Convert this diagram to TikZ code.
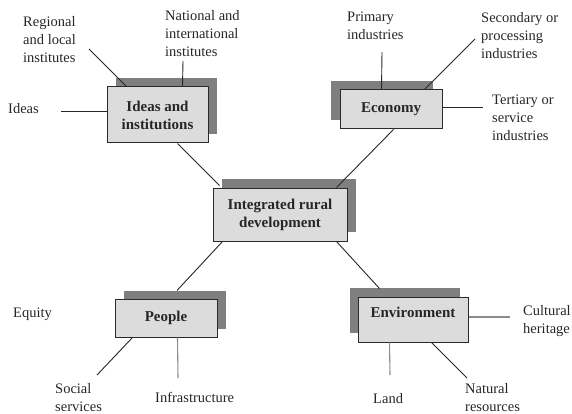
\documentclass[tikz,border=0pt]{standalone}
\usepackage{fontspec}
\setmainfont{Liberation Serif}
\usetikzlibrary{shadows,calc}
\definecolor{boxfill}{HTML}{DCDCDC}
\definecolor{shadowgray}{HTML}{7F7F7F}
\definecolor{edge}{HTML}{2A2A2A}
\definecolor{lightline}{HTML}{8C8C8C}
\begin{document}
\begin{tikzpicture}[x=1pt,y=-1pt,
  box/.style={draw=edge, line width=1pt, fill=boxfill, inner sep=0pt,
    font=\fontsize{15}{18}\selectfont\bfseries, align=center, text=black!85},
  shUR/.style={general shadow={shadow xshift=9pt, shadow yshift=9pt, fill=shadowgray}},
  shUL/.style={general shadow={shadow xshift=-9pt, shadow yshift=9pt, fill=shadowgray}},
  lab/.style={anchor=north west, inner sep=0pt, align=left,
    font=\fontsize{14.5}{18}\selectfont, text=black!85},
  link/.style={draw=black!85, line width=0.9pt},
  glink/.style={draw=lightline, line width=1.1pt}]
\useasboundingbox (0,0) rectangle (572,414);

% boxes
\node[box, shUR, minimum width=101pt, minimum height=56pt] (ideas) at (157.5,115) {Ideas and\\institutions};
\node[box, shUL, minimum width=102pt, minimum height=39pt] (econ) at (391,109.5) {Economy};
\node[box, shUR, minimum width=134pt, minimum height=53pt] (integ) at (280,214.5) {Integrated rural\\development};
\node[box, general shadow={shadow xshift=9pt, shadow yshift=8pt, fill=shadowgray},
  minimum width=102pt, minimum height=38pt] (people) at (166,318) {People};
\node[box, general shadow={shadow xshift=-8pt, shadow yshift=9pt, fill=shadowgray},
  minimum width=110pt, minimum height=45pt, text height=10pt, text depth=15pt] (env) at (413,319.5) {Environment};

% labels
\node[lab] (reg) at (23,16) {Regional\\and local\\institutes};
\node[lab] (nat) at (165,10) {National and\\international\\institutes};
\node[lab] (idl) at (8,103) {Ideas};
\node[lab] (prim) at (347,12) {Primary\\industries};
\node[lab] (sec) at (481,12) {Secondary or\\processing\\industries};
\node[lab] (ter) at (492,95) {Tertiary or\\service\\industries};
\node[lab] (equ) at (13,308) {Equity};
\node[lab] (soc) at (55,383) {Social\\services};
\node[lab] (inf) at (155,392) {Infrastructure};
\node[lab] (cul) at (523,305) {Cultural\\heritage};
\node[lab] (land) at (373,393) {Land};
\node[lab] (natr) at (465,383) {Natural\\resources};

% free ends
\coordinate (regE) at (89,49);
\coordinate (natE) at (183,61);
\coordinate (idlE) at (61,111);
\coordinate (primE) at (382,52);
\coordinate (secE) at (475,39);
\coordinate (terE) at (483,107);
\coordinate (socE) at (97,375);
\coordinate (infE) at (178,378);
\coordinate (culE) at (510,317);
\coordinate (landE) at (390,375);
\coordinate (natrE) at (467,378);

% connectors
\draw[link] (regE) -- ($(ideas.north west)+(20,0)$);
\draw[link] (natE) -- ($(ideas.north west)+(76,0)$);
\draw[link] (idlE) -- ($(ideas.west)+(0,-4)$);
\draw[link] ($(ideas.south west)+(71,0)$) -- ($(integ.north west)+(7,-2)$);

\draw[link] (primE) -- ($(econ.north west)+(42,0)$);
\draw[link] (secE) -- ($(econ.north west)+(85,0)$);
\draw[link] ($(econ.east)+(0,-2.5)$) -- (terE);
\draw[link] ($(econ.south west)+(54,0)$) -- ($(integ.north west)+(124,0)$);

\draw[link] ($(people.north)+(11,-8)$) -- ($(integ.south west)+(10,0)$);
\draw[link] ($(people.south west)+(18,0)$) -- (socE);
\draw[glink] ($(people.south west)+(63,0)$) -- (infE);

\draw[link] ($(env.north west)+(22,-8)$) -- ($(integ.south west)+(124,0)$);
\draw[glink] ($(env.east)+(0,-2.5)$) -- (culE);
\draw[glink] ($(env.south west)+(32,0)$) -- (landE);
\draw[link] ($(env.south west)+(74,0)$) -- (natrE);
\end{tikzpicture}
\end{document}
